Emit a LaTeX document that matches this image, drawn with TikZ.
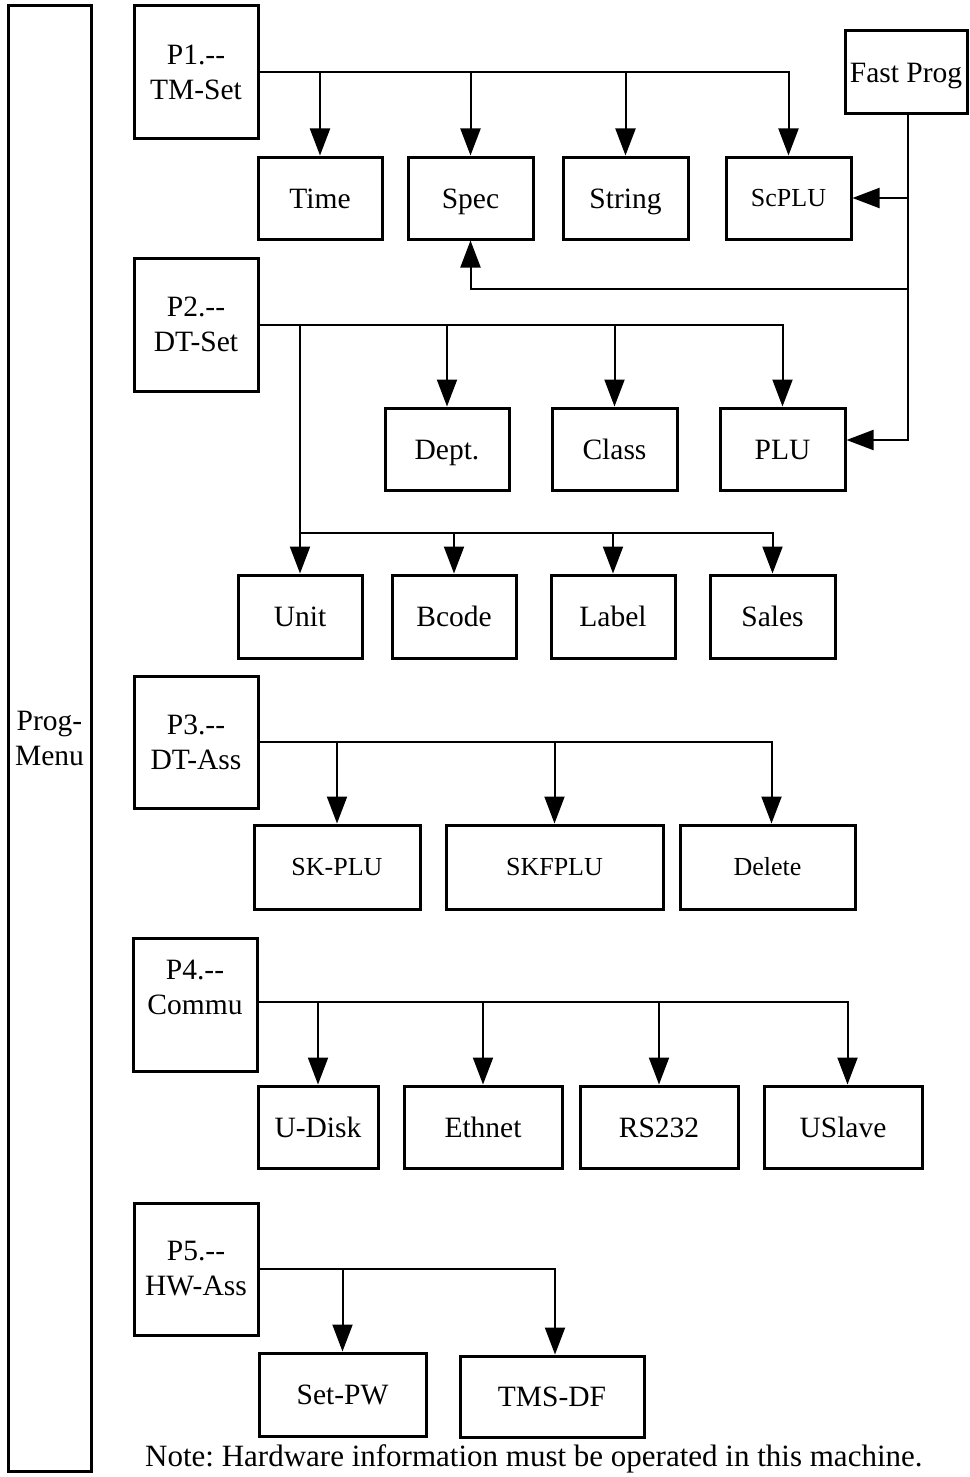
\documentclass[tikz,border=0pt]{standalone}
\usepackage{fontspec}
\setmainfont{Liberation Serif}
\usetikzlibrary{arrows.meta,calc}
\begin{document}
\frenchspacing
\begin{tikzpicture}[x=1pt,y=-1pt,
  box/.style={draw,line width=3pt,inner sep=0pt,font=\fontsize{29.5}{35}\selectfont,text height=20pt,text depth=0pt},
  sbox/.style={box,font=\fontsize{26}{31}\selectfont,text height=17.5pt},
  pbox/.style={draw,line width=3pt,inner sep=0pt,align=center,font=\fontsize{29.5}{35}\selectfont},
  conn/.style={line width=2pt},
  arr/.style={conn,-{Triangle[width=20pt,length=27pt]}}]
\useasboundingbox (0,0) rectangle (969,1477);
% main column
\node[pbox,minimum width=83,minimum height=1465] (pm) at (49.5,738.5) {Prog-\\Menu};
% level 1
\node[pbox,minimum width=124,minimum height=133] (p1) at (196,72.5) {P1.-{}-\\TM-Set};
\node[pbox,minimum width=124,minimum height=133] (p2) at (196,324.5) {P2.-{}-\\DT-Set};
\node[pbox,minimum width=124,minimum height=132] (p3) at (196,742) {P3.-{}-\\DT-Ass};
\node[pbox,minimum width=124,minimum height=133] (p4) at (195,1004.5) {};
\node[align=center,font=\fontsize{29.5}{35}\selectfont,inner sep=0pt] (p4t) at (195,987.5) {P4.-{}-\\Commu};
\node[pbox,minimum width=124,minimum height=132] (p5) at (196,1269) {P5.-{}-\\HW-Ass};
\node[box,minimum width=122,minimum height=83] (fp) at (906,72.5) {Fast Prog};
% P1 children
\node[box,minimum width=124,minimum height=82] (time) at (320,198) {Time};
\node[box,minimum width=125,minimum height=82] (spec) at (470.5,198) {Spec};
\node[box,minimum width=125,minimum height=82] (string) at (625.5,198) {String};
\node[sbox,minimum width=125,minimum height=82] (scplu) at (788.5,198) {ScPLU};
% P2 children
\node[box,minimum width=124,minimum height=82] (dept) at (447,449) {Dept.};
\node[box,minimum width=125,minimum height=82] (class) at (614.5,449) {Class};
\node[box,minimum width=125,minimum height=82] (plu) at (782.5,449) {PLU};
\node[box,minimum width=124,minimum height=83] (unit) at (300,616.5) {Unit};
\node[box,minimum width=124,minimum height=83] (bcode) at (454,616.5) {Bcode};
\node[box,minimum width=124,minimum height=83] (label) at (613,616.5) {Label};
\node[box,minimum width=125,minimum height=83] (sales) at (772.5,616.5) {Sales};
% P3 children
\node[sbox,minimum width=166,minimum height=84] (skplu) at (337,867) {SK-PLU};
\node[sbox,minimum width=217,minimum height=84] (skfplu) at (554.5,867) {SKFPLU};
\node[sbox,minimum width=175,minimum height=84] (delete) at (767.5,867) {Delete};
% P4 children
\node[box,minimum width=120,minimum height=82] (udisk) at (318,1127) {U-Disk};
\node[box,minimum width=158,minimum height=82] (ethnet) at (483,1127) {Ethnet};
\node[box,minimum width=158,minimum height=82] (rs232) at (659,1127) {RS232};
\node[box,minimum width=158,minimum height=82] (uslave) at (843,1127) {USlave};
% P5 children
\node[box,minimum width=167,minimum height=83] (setpw) at (342.5,1394.5) {Set-PW};
\node[box,minimum width=184,minimum height=81] (tmsdf) at (552,1396.5) {TMS-DF};
% note
\node[anchor=base west,inner sep=0pt,font=\fontsize{31}{36}\selectfont] (note) at (145,1466) {Note: Hardware information must be operated in this machine.};
% P1 connectors
\draw[arr] (p1.east) -| (scplu.north);
\foreach \n in {time,spec,string} \draw[arr] (p1.east -| \n.north) -- (\n.north);
% Fast Prog connectors
\coordinate (fpj) at ([xshift=2pt]fp.south);
\coordinate (specbend) at (470.5,289);
\draw[arr] (fpj) |- ([yshift=9pt]plu.east);
\draw[arr] (fpj |- scplu.east) -- (scplu.east);
\draw[arr] (fpj |- specbend) -| (spec.south);
% P2 connectors
\draw[arr] (p2.east) -| (plu.north);
\foreach \n in {dept,class} \draw[arr] (p2.east -| \n.north) -- (\n.north);
\draw[arr] (p2.east -| unit.north) -- (unit.north);
\coordinate (ubus) at (300,533);
\draw[arr] (ubus) -| (sales.north);
\foreach \n in {bcode,label} \draw[arr] (ubus -| \n.north) -- (\n.north);
% P3 connectors
\draw[arr] (p3.east) -| ([xshift=4pt]delete.north);
\foreach \n in {skplu,skfplu} \draw[arr] (p3.east -| \n.north) -- (\n.north);
% P4 connectors
\draw[arr] ([yshift=3pt]p4.east) -| ([xshift=4.5pt]uslave.north);
\foreach \n in {udisk,ethnet,rs232} \draw[arr] ([yshift=3pt]p4.east -| \n.north) -- (\n.north);
% P5 connectors
\draw[arr] (p5.east) -| ([xshift=3pt]tmsdf.north);
\draw[arr] (p5.east -| setpw.north) -- (setpw.north);
\end{tikzpicture}
\end{document}
